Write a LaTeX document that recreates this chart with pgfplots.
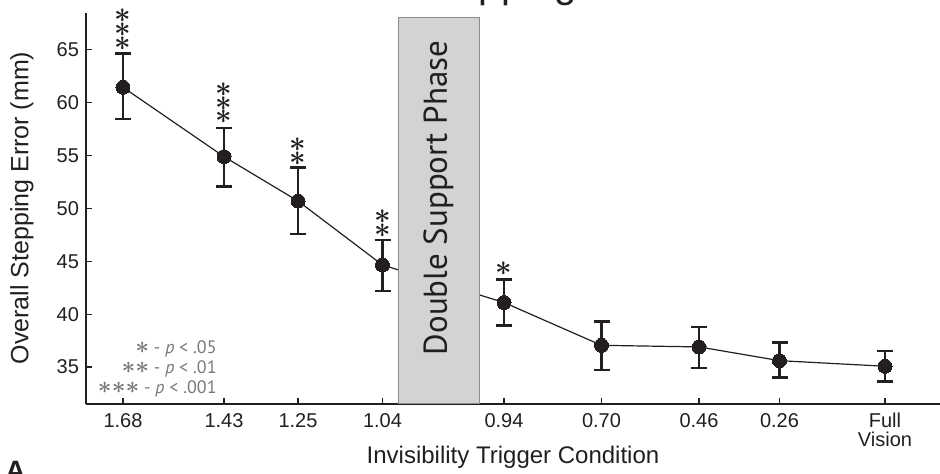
\documentclass[border=0pt]{standalone}
\usepackage{amsmath}
\usepackage{fontspec}
\setmainfont{Liberation Sans}
\newfontfamily\myriad{PT Sans}
\usepackage{pgfplots}
\usepackage{pgfplotstable}
\pgfplotsset{compat=1.18}
\definecolor{ink}{HTML}{231F20}
\definecolor{boxfill}{HTML}{D1D3D4}
\definecolor{boxline}{HTML}{8A8C8E}
\definecolor{leggray}{HTML}{77787B}

% x = plotting position (1 unit = 1 px of the figure), y = error (mm)
\pgfplotstableread{
x     y     ep    em
123   61.46 3.21  3.00
224   54.90 2.70  2.80
298   50.70 3.20  3.10
382.5 44.65 2.35  2.45
504   41.10 2.20  2.20
601.5 37.05 2.25  2.35
699   36.90 1.90  2.00
779.5 35.60 1.70  1.60
885   35.07 1.43  1.47
}\steperr

\newcommand\st{{\fontsize{14.5}{14}\selectfont$\boldsymbol{\ast}$}}
\newcommand\gs{{\fontsize{12.5}{12}\selectfont$\boldsymbol{\ast}$}}

\begin{document}
\begin{tikzpicture}
\useasboundingbox (-43pt,-35pt) rectangle (427pt,202pt);
\clip (-43pt,-35pt) rectangle (427pt,202pt);
\begin{axis}[
  at={(0,0)}, anchor=south west,
  scale only axis, width=427pt, height=195.5pt,
  xmin=86, xmax=940, ymin=31.5, ymax=68.49,
  axis lines=left,
  axis line style={-, ink, line width=0.7pt},
  tick style={ink, line width=0.6pt},
  tick align=inside, major tick length=3pt,
  clip=false,
  ytick={35,40,45,50,55,60,65},
  xtick={123,224,298,382.5,504,601.5,699,779.5,885},
  xticklabels={1.68,1.43,1.25,1.04,0.94,0.70,0.46,0.26,{Full\\Vision}},
  /pgf/number format/assume math mode=true,
  tick label style={font=\fontsize{10}{9.5}\selectfont, text=ink},
  xticklabel style={align=center, yshift=-1pt},
  xlabel={Invisibility Trigger Condition},
  ylabel={Overall Stepping Error (mm)},
  xlabel style={at={(axis description cs:0.5,0)}, anchor=base, yshift=-30pt,
    font=\fontsize{12}{12}\selectfont, text=ink},
  ylabel style={at={(axis cs:22,50.04)}, anchor=center,
    font=\fontsize{12.5}{12.5}\selectfont, text=ink},
]
\addplot[ink, line width=0.6pt, mark=*, mark size=3.5pt,
  mark options={fill=ink, draw=ink, line width=0pt},
  error bars/.cd, y dir=both, y explicit,
  error bar style={line width=1.3pt, ink},
  error mark options={rotate=90, mark size=4pt, line width=1.3pt, ink}]
  table[x=x, y=y, y error plus=ep, y error minus=em] {\steperr};

% double support phase
\draw[boxline, fill=boxfill, line width=0.5pt]
  (axis cs:398.3,31.5) rectangle (axis cs:479.3,68.05);
\node[rotate=90, font=\myriad\fontsize{16.5}{16.5}\selectfont, text=ink]
  at (axis cs:438.5,51.0) {Double Support Phase};

% significance stars
\node[text=ink, inner sep=0pt, yshift=5pt]  at (axis cs:123,64.67) {\st};
\node[text=ink, inner sep=0pt, yshift=12pt] at (axis cs:123,64.67) {\st};
\node[text=ink, inner sep=0pt, yshift=19pt] at (axis cs:123,64.67) {\st};
\node[text=ink, inner sep=0pt, yshift=5.5pt]  at (axis cs:224,57.6) {\st};
\node[text=ink, inner sep=0pt, yshift=12.3pt] at (axis cs:224,57.6) {\st};
\node[text=ink, inner sep=0pt, yshift=19.1pt] at (axis cs:224,57.6) {\st};
\node[text=ink, inner sep=0pt, yshift=4.5pt]  at (axis cs:298,53.9) {\st};
\node[text=ink, inner sep=0pt, yshift=11.5pt] at (axis cs:298,53.9) {\st};
\node[text=ink, inner sep=0pt, yshift=4.5pt]  at (axis cs:382.5,47.0) {\st};
\node[text=ink, inner sep=0pt, yshift=11.5pt] at (axis cs:382.5,47.0) {\st};
\node[text=ink, inner sep=0pt, yshift=5.5pt]  at (axis cs:504,43.3) {\st};

% key
\node[anchor=east, align=right, inner sep=0pt, text=leggray,
  font=\myriad\fontsize{9}{10}\selectfont] at (axis cs:217,34.8)
  {\gs{} - \textit{p} < .05\\\gs\gs{} - \textit{p} < .01\\\gs\gs\gs{} - \textit{p} < .001};

% title and panel letter (cut off in the figure)
\node[anchor=base, font=\fontsize{20}{20}\selectfont, text=ink]
  at (axis cs:479,69.95) {Overall Stepping Error};
\node[anchor=base west, inner sep=0pt, font=\bfseries\fontsize{14}{14}\selectfont, text=ink]
  at (axis cs:5,24.3) {A};
\end{axis}
\end{tikzpicture}
\end{document}
